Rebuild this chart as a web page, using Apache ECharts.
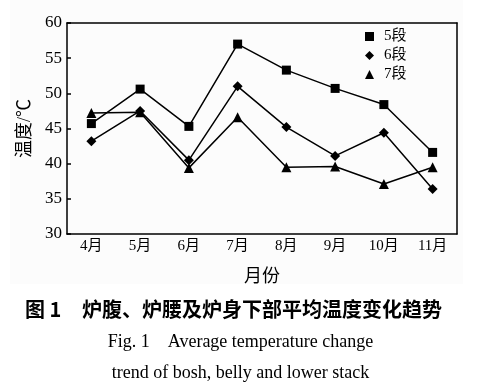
<!DOCTYPE html>
<html><head><meta charset="utf-8">
<script src="https://cdn.jsdelivr.net/npm/echarts@6/dist/echarts.min.js"></script>
<style>html,body{margin:0;padding:0;background:#fff}#c{width:481px;height:392px}</style>
</head><body><div id="c"></div>
<script>
const months = ['4月','5月','6月','7月','8月','9月','10月','11月'];
const seg5 = [45.7, 50.6, 45.3, 57.0, 53.3, 50.7, 48.4, 41.6];
const seg6 = [43.2, 47.5, 40.5, 51.0, 45.2, 41.1, 44.4, 36.4];
const seg7 = [47.2, 47.3, 39.4, 46.6, 39.5, 39.6, 37.1, 39.5];
const seriesNames = ['5段','6段','7段'];
const yTicks = [30, 35, 40, 45, 50, 55, 60];

const FONT = '"Liberation Serif","Times New Roman","Noto Sans CJK SC",serif';
const chart = echarts.init(document.getElementById('c'));
const mk = (name, data, symbol, size) => ({
  name, type: 'line', data, symbol, symbolSize: size,
  lineStyle: {color: '#000', width: 1.5},
  itemStyle: {color: '#000'},
  emphasis: {disabled: true}, animation: false
});
chart.setOption({
  animation: false,
  graphic: [
    {type: 'rect', shape: {x: 10, y: 0, width: 453, height: 284}, style: {fill: '#fcfcfc'}, z: -10},
    {type: 'text', left: 25, top: 299, style: {text: '图 1', font: 'bold 20px "Noto Sans CJK SC", sans-serif', fill: '#000'}},
    {type: 'text', left: 82, top: 299, style: {text: '炉腹、炉腰及炉身下部平均温度变化趋势', font: 'bold 20px "Noto Sans CJK SC", sans-serif', fill: '#000'}},
    {type: 'text', left: 'center', top: 333, style: {text: 'Fig. 1    Average temperature change', font: '18px ' + FONT, fill: '#000'}},
    {type: 'text', left: 'center', top: 364, style: {text: 'trend of bosh, belly and lower stack', font: '18px ' + FONT, fill: '#000'}}
  ],
  grid: {left: 67, right: 24, top: 23, bottom: 158},
  legend: {
    orient: 'vertical', left: 360, top: 24, itemGap: 4,
    itemWidth: 9, itemHeight: 9,
    textStyle: {fontFamily: FONT, fontSize: 15, color: '#000', padding: [0, 0, 0, 5]},
    data: [{name: '5段', icon: 'rect'}, {name: '6段', icon: 'diamond'}, {name: '7段', icon: 'triangle'}]
  },
  xAxis: [{
    type: 'category', data: months, boundaryGap: true,
    name: '月份', nameLocation: 'middle', nameGap: 34,
    nameTextStyle: {fontFamily: FONT, fontSize: 18, color: '#000'},
    axisLine: {lineStyle: {color: '#000', width: 1.5}},
    axisTick: {inside: true, length: 5, lineStyle: {color: '#000', width: 1.5}},
    axisLabel: {fontFamily: FONT, fontSize: 15, color: '#000', margin: 5}
  }, {type: 'category', position: 'top', data: months, axisLine: {lineStyle: {color: '#000', width: 1.5}}, axisTick: {show: false}, axisLabel: {show: false}}],
  yAxis: [{
    type: 'value', min: yTicks[0], max: yTicks[yTicks.length - 1], interval: 5,
    name: '温度/℃', nameLocation: 'middle', nameGap: 32, nameRotate: 90,
    nameTextStyle: {fontFamily: FONT, fontSize: 18, color: '#000'},
    axisLine: {show: true, lineStyle: {color: '#000', width: 1.5}},
    axisTick: {show: true, inside: true, length: 4, lineStyle: {color: '#000', width: 1.5}},
    axisLabel: {fontFamily: FONT, fontSize: 17, color: '#000', margin: 5},
    splitLine: {show: false}
  }, {type: 'value', position: 'right', min: yTicks[0], max: yTicks[yTicks.length - 1], axisLine: {show: true, lineStyle: {color: '#000', width: 1.5}}, axisTick: {show: false}, axisLabel: {show: false}, splitLine: {show: false}}],
  series: [
    mk(seriesNames[0], seg5, 'rect', 9),
    mk(seriesNames[1], seg6, 'diamond', 10),
    mk(seriesNames[2], seg7, 'triangle', 10)
  ]
});
</script></body></html>
